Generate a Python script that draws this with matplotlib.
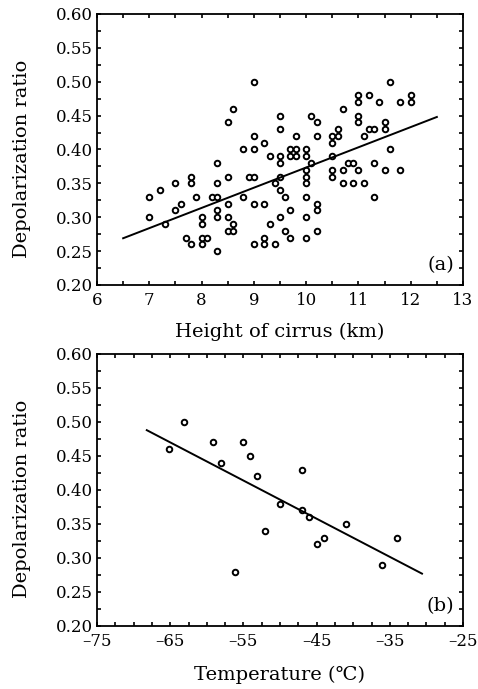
import matplotlib
matplotlib.use("Agg")
import matplotlib.pyplot as plt
from matplotlib.ticker import MultipleLocator, FormatStrFormatter, FuncFormatter

plt.rcParams['font.family'] = ['DejaVu Serif', 'DejaVu Sans']
plt.rcParams['axes.unicode_minus'] = True

# Panel (a): height of cirrus (km) vs depolarization ratio
height_km = [7.0, 7.0, 7.2, 7.3, 7.5, 7.5, 7.6, 7.7, 7.8, 7.8, 7.8, 7.9, 8.0, 8.0, 8.0, 8.0,
             8.1, 8.2, 8.3, 8.3, 8.3, 8.3, 8.3, 8.3, 8.5, 8.5, 8.5, 8.5, 8.5, 8.6, 8.6, 8.6,
             8.8, 8.8, 8.9, 9.0, 9.0, 9.0, 9.0, 9.0, 9.0, 9.2, 9.2, 9.2, 9.2, 9.3, 9.3, 9.4,
             9.4, 9.5, 9.5, 9.5, 9.5, 9.5, 9.5, 9.5, 9.6, 9.6, 9.7, 9.7, 9.7, 9.7, 9.8, 9.8,
             9.8, 10.0, 10.0, 10.0, 10.0, 10.0, 10.0, 10.0, 10.0, 10.1, 10.1, 10.2, 10.2, 10.2,
             10.2, 10.2, 10.5, 10.5, 10.5, 10.5, 10.5, 10.6, 10.6, 10.7, 10.7, 10.7, 10.8, 10.9,
             10.9, 11.0, 11.0, 11.0, 11.0, 11.0, 11.1, 11.1, 11.2, 11.2, 11.3, 11.3, 11.3, 11.4,
             11.5, 11.5, 11.5, 11.6, 11.6, 11.8, 11.8, 12.0, 12.0]
depol_a = [0.33, 0.30, 0.34, 0.29, 0.35, 0.31, 0.32, 0.27, 0.26, 0.36, 0.35, 0.33, 0.30, 0.29, 0.27, 0.26,
           0.27, 0.33, 0.33, 0.38, 0.35, 0.31, 0.30, 0.25, 0.44, 0.36, 0.32, 0.30, 0.28, 0.46, 0.29, 0.28,
           0.40, 0.33, 0.36, 0.36, 0.50, 0.42, 0.40, 0.32, 0.26, 0.41, 0.32, 0.27, 0.26, 0.39, 0.29, 0.35,
           0.26, 0.45, 0.43, 0.39, 0.38, 0.36, 0.34, 0.30, 0.33, 0.28, 0.31, 0.40, 0.39, 0.27, 0.42, 0.40,
           0.39, 0.40, 0.39, 0.37, 0.36, 0.35, 0.33, 0.30, 0.27, 0.38, 0.45, 0.44, 0.42, 0.32,
           0.31, 0.28, 0.42, 0.41, 0.39, 0.37, 0.36, 0.43, 0.42, 0.46, 0.37, 0.35, 0.38, 0.38,
           0.35, 0.48, 0.47, 0.45, 0.44, 0.37, 0.42, 0.35, 0.48, 0.43, 0.43, 0.38, 0.33, 0.47,
           0.44, 0.43, 0.37, 0.50, 0.40, 0.47, 0.37, 0.48, 0.47]
fit_a_x = [6.5, 12.5]
fit_a_y = [0.269, 0.448]

# Panel (b): temperature (C) vs depolarization ratio
temp_c = [-65.1, -63.1, -59.1, -58.1, -56.1, -55.1, -54.1, -53.1, -52.1, -50.0, -47.0, -47.0,
          -46.0, -45.0, -44.0, -41.0, -36.0, -34.0]
depol_b = [0.46, 0.50, 0.47, 0.44, 0.28, 0.47, 0.45, 0.42, 0.34, 0.38, 0.43, 0.37,
           0.36, 0.32, 0.33, 0.35, 0.29, 0.33]
fit_b_x = [-68.2, -30.6]
fit_b_y = [0.488, 0.277]
temp_ticks = [-75, -65, -55, -45, -35, -25]

fig = plt.figure(figsize=(4.78, 6.89), dpi=100)
ax1 = fig.add_axes([97/478, 1-285/689, 366/478, 271/689])
ax2 = fig.add_axes([97/478, 1-626/689, 366/478, 272/689])

fs = 12
lfs = 14
for ax in (ax1, ax2):
    ax.set_ylim(0.20, 0.60)
    ax.yaxis.set_major_locator(MultipleLocator(0.05))
    ax.yaxis.set_minor_locator(MultipleLocator(0.025))
    ax.yaxis.set_major_formatter(FormatStrFormatter('%.2f'))
    ax.tick_params(which='both', direction='in', top=True, right=True, length=3, width=1.2,
                   labelsize=fs)
    ax.tick_params(axis='x', pad=5)
    ax.tick_params(axis='y', pad=3)
    for s in ax.spines.values():
        s.set_linewidth(1.3)
    ax.set_ylabel('Depolarization ratio', fontsize=lfs, va='center')
    ax.yaxis.set_label_coords(-0.205, 0.467)

mk = dict(marker='o', ms=4, mfc='white', mec='black', mew=1.4, ls='none')

ax1.plot(height_km, depol_a, **mk)
ax1.plot(fit_a_x, fit_a_y, color='black', lw=1.4)
ax1.set_xlim(6, 13)
ax1.xaxis.set_major_locator(MultipleLocator(1))
ax1.xaxis.set_minor_locator(MultipleLocator(0.5))
ax1.set_xlabel('Height of cirrus (km)', fontsize=lfs, va='center')
ax1.xaxis.set_label_coords(0.5, -47/271)
ax1.text(0.975, 0.04, '(a)', transform=ax1.transAxes, ha='right', va='bottom', fontsize=lfs)

ax2.plot(temp_c, depol_b, **mk)
ax2.plot(fit_b_x, fit_b_y, color='black', lw=1.4)
ax2.set_xlim(-75, -25)
ax2.set_xticks(temp_ticks)
ax2.xaxis.set_major_formatter(FuncFormatter(lambda v, p: f"{v:.0f}".replace('-', '\u2013')))
ax2.xaxis.set_minor_locator(MultipleLocator(2.5))
ax2.set_xlabel('Temperature (\u2103)', fontsize=lfs, va='center')
ax2.xaxis.set_label_coords(0.5, -49/272)
ax2.text(0.975, 0.04, '(b)', transform=ax2.transAxes, ha='right', va='bottom', fontsize=lfs)

fig.savefig('out.png', dpi=100)
